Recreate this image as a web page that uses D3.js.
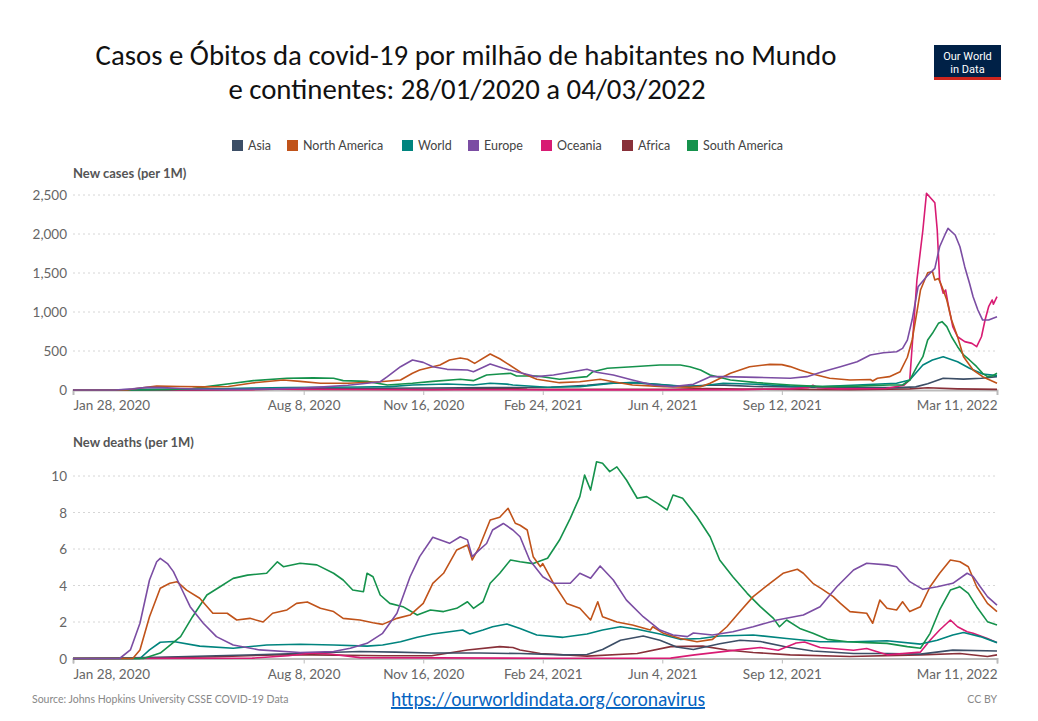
<!DOCTYPE html>
<html><head><meta charset="utf-8">
<script src="https://cdn.jsdelivr.net/npm/d3@7"></script>
<style>
html,body{margin:0;padding:0;background:#fff;}
svg{display:block;font-family:Lato,"Open Sans",sans-serif;}
</style></head>
<body><svg id="chart" width="1038" height="721"></svg>
<script>
// ---------- DATA (day offsets since 2020-01-28, value per million) ----------
const startDate = "2020-01-28";
const endDate = "2022-03-11";
const seriesNames = ["Asia","North America","World","Europe","Oceania","Africa","South America"];
const seriesColors = ["#3C4E66","#C0531A","#00847E","#7B4DA3","#D81B73","#883039","#15924C"];
const xTickDates = ["2020-01-28","2020-08-08","2020-11-16","2021-02-24","2021-06-04","2021-09-12","2022-03-11"];
const casesTicks = [0,500,1000,1500,2000,2500];
const deathsTicks = [0,2,4,6,8,10];

const casesAsia = [[0,1],[60,3],[100,5],[150,12],[200,20],[250,22],[300,25],[350,30],[400,35],[430,60],[450,90],[470,95],[490,70],[510,45],[530,60],[545,62],[570,45],[600,40],[650,30],[690,30],[705,40],[715,80],[728,150],[745,140],[760,150],[773,171]];
const casesNorthAmerica = [[0,0],[45,0],[53,20],[70,50],[90,45],[110,40],[130,45],[150,90],[176,128],[190,110],[207,86],[230,86],[248,100],[257,106],[274,128],[284,214],[290,256],[307,320],[315,385],[324,410],[330,395],[336,342],[349,462],[357,400],[363,342],[376,214],[388,137],[407,94],[424,106],[441,137],[452,106],[468,64],[494,43],[516,35],[525,43],[533,86],[550,214],[566,299],[583,329],[593,325],[600,300],[608,256],[622,192],[633,150],[650,128],[667,135],[669,115],[673,150],[683,171],[692,235],[698,420],[702,641],[706,1000],[709,1282],[715,1504],[719,1520],[721,1410],[724,1430],[727,1324],[731,1154],[735,897],[740,683],[745,427],[753,256],[761,171],[773,86]];
const casesWorld = [[0,0],[40,2],[60,8],[90,12],[120,15],[150,25],[180,32],[210,35],[240,38],[265,43],[284,64],[313,77],[335,64],[349,86],[363,75],[368,64],[397,36],[424,43],[452,86],[468,94],[489,73],[508,51],[525,51],[544,86],[572,73],[600,51],[627,43],[656,64],[689,86],[700,128],[711,320],[719,385],[728,427],[740,363],[750,278],[761,205],[773,184]];
const casesEurope = [[0,0],[35,0],[50,15],[62,34],[75,30],[90,20],[110,10],[130,8],[150,10],[170,15],[190,25],[210,40],[230,60],[248,90],[257,106],[263,171],[274,299],[284,385],[293,354],[301,299],[313,265],[330,256],[335,235],[349,333],[360,278],[376,214],[388,171],[402,192],[418,235],[430,265],[438,227],[452,192],[468,128],[485,64],[502,43],[519,73],[533,171],[544,171],[572,162],[600,150],[614,171],[627,235],[642,299],[656,363],[667,449],[678,478],[689,491],[694,534],[698,640],[702,900],[707,1324],[714,1452],[721,1560],[725,1837],[730,2009],[732,2073],[738,1987],[742,1837],[746,1581],[750,1368],[753,1196],[757,1026],[761,897],[766,897],[773,940]];
const casesOceania = [[0,0],[150,5],[180,15],[200,10],[300,3],[400,2],[500,2],[560,5],[600,15],[615,30],[619,60],[623,30],[640,15],[680,20],[695,60],[700,128],[702,555],[706,1410],[711,2051],[714,2522],[719,2436],[721,2400],[723,2051],[725,1410],[728,1240],[730,1282],[732,1111],[736,812],[740,683],[746,620],[752,598],[756,555],[760,683],[763,897],[766,1068],[769,1154],[770,1100],[773,1196]];
const casesAfrica = [[0,0],[100,2],[170,10],[200,8],[300,8],[340,15],[360,20],[380,12],[500,10],[530,18],[560,12],[650,5],[700,15],[715,28],[740,15],[773,8]];
const casesSouthAmerica = [[0,0],[60,0],[80,5],[100,20],[112,43],[134,86],[151,120],[179,150],[201,155],[218,150],[226,120],[246,111],[263,64],[284,86],[301,111],[324,137],[335,120],[346,192],[357,205],[366,214],[371,180],[388,180],[407,137],[430,171],[435,235],[447,278],[468,299],[491,320],[508,320],[516,299],[525,256],[533,192],[550,128],[572,94],[600,64],[627,43],[656,50],[683,64],[694,64],[700,128],[706,299],[711,427],[715,641],[719,727],[724,855],[727,876],[731,812],[735,683],[740,555],[745,449],[750,385],[756,299],[761,214],[765,171],[769,180],[773,214]];

const deathsAsia = [[0,0],[40,0.02],[80,0.08],[120,0.15],[160,0.22],[200,0.3],[240,0.38],[270,0.35],[300,0.3],[340,0.3],[374,0.27],[410,0.2],[430,0.22],[443,0.49],[458,1.0],[477,1.23],[491,1.0],[505,0.63],[519,0.49],[541,0.81],[558,1.0],[575,0.93],[597,0.63],[619,0.41],[653,0.27],[681,0.27],[709,0.24],[736,0.46],[773,0.41]];
const deathsNorthAmerica = [[0,0],[50,0],[56,0.47],[64,2.29],[73,3.85],[81,4.12],[87,4.21],[95,3.75],[106,3.3],[117,2.48],[129,2.48],[137,2.11],[148,2.2],[159,2.0],[167,2.48],[179,2.66],[187,3.02],[196,3.1],[207,2.75],[218,2.57],[226,2.2],[240,2.11],[251,1.96],[259,1.87],[271,2.2],[282,2.38],[293,3.02],[301,4.12],[310,4.67],[321,5.95],[330,6.22],[334,5.4],[340,6.12],[349,7.59],[357,7.74],[364,8.23],[370,7.41],[374,7.3],[380,7.04],[385,5.58],[391,5.03],[393,5.2],[402,4.12],[413,3.02],[424,2.75],[433,2.11],[439,3.11],[443,2.29],[455,2.0],[468,1.84],[483,1.56],[485,1.74],[494,1.38],[508,1.1],[522,0.92],[535,1.05],[547,1.74],[558,2.57],[569,3.39],[583,4.12],[594,4.67],[606,4.89],[611,4.67],[619,4.12],[627,3.79],[636,3.39],[642,3.02],[650,2.57],[664,2.48],[669,1.93],[675,3.2],[681,2.75],[689,2.66],[694,3.11],[700,2.57],[709,2.84],[717,3.93],[725,4.67],[734,5.4],[742,5.3],[749,5.03],[756,3.93],[765,3.02],[773,2.57]];
const deathsWorld = [[0,0],[56,0],[64,0.47],[73,0.89],[84,0.93],[106,0.68],[134,0.56],[162,0.74],[190,0.78],[218,0.74],[246,0.68],[259,0.74],[274,0.92],[288,1.16],[301,1.34],[315,1.47],[326,1.56],[332,1.34],[343,1.56],[351,1.74],[363,1.89],[374,1.65],[388,1.29],[410,1.16],[430,1.34],[443,1.56],[458,1.74],[472,1.6],[491,1.34],[508,1.05],[525,1.1],[541,1.23],[569,1.29],[597,1.1],[625,0.92],[653,0.92],[681,0.97],[709,0.79],[723,1.0],[736,1.29],[745,1.42],[759,1.2],[773,0.87]];
const deathsEurope = [[0,0],[39,0],[48,0.47],[56,1.93],[64,4.3],[70,5.3],[73,5.49],[79,5.2],[84,4.76],[90,3.93],[98,2.84],[109,1.93],[120,1.2],[134,0.74],[156,0.47],[190,0.33],[218,0.38],[232,0.56],[246,0.83],[259,1.38],[271,2.48],[282,4.48],[290,5.58],[301,6.64],[315,6.31],[324,6.67],[330,6.5],[334,5.58],[340,5.95],[346,6.3],[351,7.04],[360,7.4],[368,7.04],[374,6.67],[382,5.4],[393,4.48],[402,4.12],[416,4.12],[424,4.67],[433,4.4],[441,5.07],[452,4.3],[463,3.2],[477,2.29],[491,1.56],[502,1.29],[514,1.2],[519,1.4],[535,1.29],[552,1.47],[569,1.74],[589,2.11],[611,2.38],[625,2.84],[639,3.93],[653,4.85],[664,5.22],[681,5.13],[689,5.03],[700,4.21],[711,3.79],[723,3.93],[736,4.12],[748,4.67],[753,4.5],[759,3.93],[765,3.39],[773,2.93]];
const deathsOceania = [[0,0],[150,0.02],[180,0.15],[200,0.3],[215,0.25],[240,0.05],[400,0.01],[500,0.02],[520,0.2],[560,0.5],[575,0.6],[590,0.45],[605,0.85],[612,0.9],[625,0.6],[653,0.45],[664,0.55],[681,0.2],[709,0.35],[717,1.0],[725,1.56],[734,2.11],[740,1.74],[748,1.47],[753,1.38],[765,1.1],[773,0.87]];
const deathsAfrica = [[0,0],[60,0.02],[120,0.1],[170,0.2],[200,0.2],[260,0.15],[300,0.15],[330,0.47],[357,0.65],[368,0.6],[374,0.47],[391,0.27],[430,0.13],[472,0.27],[500,0.65],[527,0.68],[547,0.47],[569,0.33],[600,0.2],[650,0.11],[709,0.2],[742,0.27],[765,0.11],[773,0.2]];
const deathsSouthAmerica = [[0,0],[59,0],[73,0.3],[90,1.2],[100,2.29],[112,3.48],[123,3.93],[134,4.39],[146,4.57],[162,4.67],[171,5.3],[176,5.03],[190,5.22],[204,5.13],[218,4.67],[226,4.3],[234,3.75],[243,3.66],[246,4.67],[251,4.48],[257,3.48],[265,3.02],[276,2.84],[288,2.38],[299,2.66],[310,2.57],[321,2.75],[330,3.11],[335,2.75],[343,3.11],[349,4.12],[357,4.67],[366,5.4],[374,5.3],[385,5.2],[397,5.49],[407,6.49],[416,7.68],[424,8.87],[428,10.05],[433,9.23],[438,10.78],[443,10.7],[449,10.24],[455,10.5],[463,9.78],[472,8.78],[480,8.87],[489,8.5],[497,8.14],[502,8.96],[510,8.78],[522,7.77],[533,6.67],[541,5.4],[552,4.48],[564,3.57],[575,2.84],[586,2.2],[591,1.74],[597,2.11],[608,1.65],[619,1.38],[631,1.05],[648,0.92],[664,0.87],[681,0.83],[698,0.65],[709,0.56],[717,1.38],[725,2.66],[734,3.75],[742,3.93],[749,3.57],[756,2.84],[765,2.02],[773,1.84]];

// drawing order (back to front)
const casesSeries = {"Asia":casesAsia,"North America":casesNorthAmerica,"World":casesWorld,"Europe":casesEurope,"Oceania":casesOceania,"Africa":casesAfrica,"South America":casesSouthAmerica};
const deathsSeries = {"Asia":deathsAsia,"North America":deathsNorthAmerica,"World":deathsWorld,"Europe":deathsEurope,"Oceania":deathsOceania,"Africa":deathsAfrica,"South America":deathsSouthAmerica};
const drawOrder = ["Africa","Asia","Oceania","World","South America","North America","Europe"];

// ---------- CHART ----------
const svg = d3.select("#chart");
const parse = d3.timeParse("%Y-%m-%d");
const t0 = parse(startDate);
const color = d3.scaleOrdinal(seriesNames, seriesColors);
const x = d3.scaleTime([t0, parse(endDate)], [73, 997]);
const fmt = d3.timeFormat("%b %-d, %Y");
const grey = "#666";

// Title
svg.append("text").attr("x",466).attr("y",65).attr("text-anchor","middle")
  .attr("font-family","Carlito,Lato,sans-serif").attr("font-size",28.8).attr("fill","#111")
  .text("Casos e Óbitos da covid-19 por milhão de habitantes no Mundo");
svg.append("text").attr("x",467).attr("y",99).attr("text-anchor","middle")
  .attr("font-family","Carlito,Lato,sans-serif").attr("font-size",28.8).attr("fill","#111")
  .text("e continentes: 28/01/2020 a 04/03/2022");

// Logo
const logo = svg.append("g");
logo.append("rect").attr("x",934).attr("y",45).attr("width",67).attr("height",35).attr("fill","#002147");
logo.append("rect").attr("x",934).attr("y",77).attr("width",67).attr("height",3).attr("fill","#CE261E");
logo.append("text").attr("x",967.5).attr("y",60).attr("text-anchor","middle").attr("fill","#fff")
  .attr("font-family","Roboto,Arial,sans-serif").attr("font-size",11).text("Our World");
logo.append("text").attr("x",967.5).attr("y",73).attr("text-anchor","middle").attr("fill","#fff")
  .attr("font-family","Roboto,Arial,sans-serif").attr("font-size",11).text("in Data");

// Legend
const legendX = [232,287,402,468,541,622,687];
const lg = svg.append("g");
seriesNames.forEach((n,i)=>{
  lg.append("rect").attr("x",legendX[i]).attr("y",140).attr("width",11).attr("height",11).attr("fill",color(n));
  lg.append("text").attr("x",legendX[i]+16).attr("y",150).attr("font-size",12.5).attr("fill","#444").text(n);
});

function panel(seriesMap, y, ticks, label, labelY, fmtTick){
  const g = svg.append("g");
  g.append("text").attr("x",73).attr("y",labelY).attr("font-size",13).attr("font-weight",700)
    .attr("fill","#555").text(label);
  ticks.forEach(v=>{
    if(v!==0) g.append("line").attr("x1",73).attr("x2",997).attr("y1",y(v)).attr("y2",y(v))
      .attr("stroke","#d6d6d6").attr("stroke-dasharray","2,3");
    g.append("text").attr("x",67).attr("y",y(v)+5).attr("text-anchor","end")
      .attr("font-size",13.5).attr("fill",grey).text(fmtTick(v));
  });
  const ax = g.append("g").attr("transform",`translate(0,${y(0)})`)
    .call(d3.axisBottom(x).tickValues(xTickDates.map(parse)).tickFormat(fmt).tickSize(5).tickPadding(6));
  ax.select(".domain").attr("stroke","#bbb").attr("stroke-width",2);
  ax.selectAll(".tick line").attr("stroke","#bbb");
  ax.selectAll(".tick text").attr("font-family","Lato,sans-serif").attr("font-size",13.5).attr("fill",grey)
    .attr("y",8).attr("dy","0.9em")
    .attr("text-anchor",(d,i)=> i===0?"start":(i===xTickDates.length-1?"end":"middle"));
  const line = d3.line().x(d=>x(d3.timeDay.offset(t0,d[0]))).y(d=>y(d[1]));
  drawOrder.forEach(n=>{
    g.append("path").datum(seriesMap[n]).attr("d",line).attr("fill","none")
      .attr("stroke",color(n)).attr("stroke-width",1.6).attr("stroke-linejoin","round");
  });
}

const yCases = d3.scaleLinear([0,2500],[390,195]);
panel(casesSeries, yCases, casesTicks, "New cases (per 1M)", 178, d3.format(","));
const yDeaths = d3.scaleLinear([0,10],[658.5,476]);
panel(deathsSeries, yDeaths, deathsTicks, "New deaths (per 1M)", 447, d3.format("d"));

// Footer
svg.append("text").attr("x",32).attr("y",703).attr("font-size",10.5).attr("fill","#888")
  .text("Source: Johns Hopkins University CSSE COVID-19 Data");
svg.append("text").attr("x",548).attr("y",706).attr("text-anchor","middle")
  .attr("font-family","Carlito,'Open Sans',sans-serif").attr("font-size",19.5).attr("fill","#0563C1")
  .attr("text-decoration","underline").text("https://ourworldindata.org/coronavirus");
svg.append("text").attr("x",997).attr("y",703).attr("text-anchor","end").attr("font-size",10.5).attr("fill","#888")
  .text("CC BY");
</script></body></html>
